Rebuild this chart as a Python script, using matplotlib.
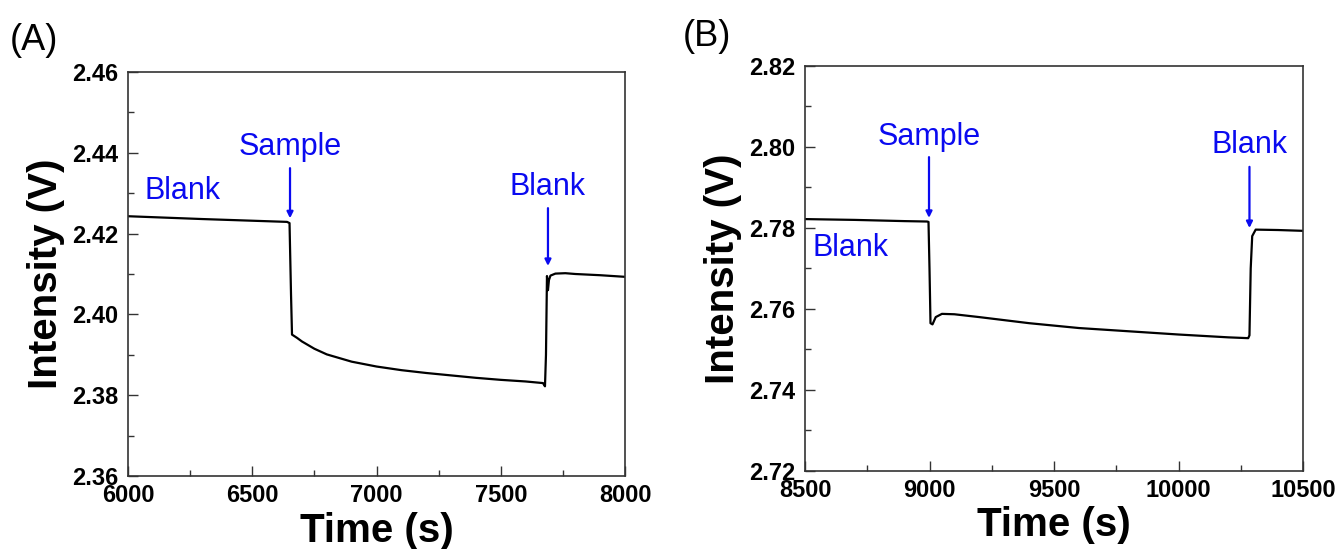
import matplotlib
matplotlib.use("Agg")
import matplotlib.pyplot as plt
from matplotlib.ticker import MultipleLocator, FormatStrFormatter

plt.rcParams['font.family'] = ['Liberation Sans', 'DejaVu Sans']

# Panel A data (time s, intensity V)
time_a = [6000, 6300, 6640, 6650, 6656, 6660, 6680, 6700, 6750, 6800, 6900, 7000,
          7100, 7200, 7300, 7400, 7500, 7600, 7670, 7678, 7682, 7686, 7690, 7694,
          7700, 7720, 7760, 7800, 7900, 8000]
int_a = [2.4243, 2.4236, 2.4229, 2.4226, 2.4050, 2.3950, 2.3942, 2.3933, 2.3915, 2.3901,
         2.3883, 2.3871, 2.3862, 2.3855, 2.3849, 2.3843, 2.3838, 2.3834, 2.3830, 2.3822,
         2.3900, 2.4095, 2.4060, 2.4085, 2.4096, 2.4101, 2.4102, 2.4100, 2.4097, 2.4093]

# Panel B data
time_b = [8500, 8700, 8900, 8990, 8996, 9000, 9004, 9012, 9025, 9050, 9100, 9200,
          9400, 9600, 9800, 10000, 10200, 10280, 10285, 10290, 10296, 10310, 10400, 10500]
int_b = [2.7822, 2.7820, 2.7817, 2.7816, 2.7815, 2.7700, 2.7565, 2.7562, 2.7580, 2.7588,
         2.7587, 2.7580, 2.7565, 2.7553, 2.7545, 2.7537, 2.7530, 2.7528, 2.7535, 2.7700,
         2.7780, 2.7796, 2.7795, 2.7793]

panel_labels = ["(A)", "(B)"]
xlims = [(6000, 8000), (8500, 10500)]
ylims = [(2.36, 2.46), (2.72, 2.82)]

# annotations: (text, text_x, text_y, arrow_tail_y, arrow_tip_y) ; arrow_tail None = plain label
notes_a = [("Blank", 6065, 2.4305, None, None),
           ("Sample", 6652, 2.4414, 2.4362, 2.4238),
           ("Blank", 7690, 2.4315, 2.4263, 2.4120)]
notes_b = [("Blank", 8530, 2.7750, None, None),
           ("Sample", 8998, 2.8025, 2.7975, 2.7825),
           ("Blank", 10285, 2.8005, 2.7951, 2.7800)]

BLUE = '#0a0af0'

fig = plt.figure(figsize=(13.37, 5.49), dpi=100)
axA = fig.add_axes([128/1337, 1-476/549, 497/1337, 404/549])
axB = fig.add_axes([805/1337, 1-471/549, 498/1337, 405/549])

for ax, t, v, xl, yl, notes in [(axA, time_a, int_a, xlims[0], ylims[0], notes_a),
                                 (axB, time_b, int_b, xlims[1], ylims[1], notes_b)]:
    ax.plot(t, v, color='black', lw=1.6)
    ax.set_xlim(*xl)
    ax.set_ylim(*yl)
    ax.xaxis.set_major_locator(MultipleLocator(500))
    ax.xaxis.set_minor_locator(MultipleLocator(250))
    ax.yaxis.set_major_locator(MultipleLocator(0.02))
    ax.yaxis.set_minor_locator(MultipleLocator(0.01))
    ax.yaxis.set_major_formatter(FormatStrFormatter('%.2f'))
    ax.tick_params(which='both', direction='in', top=False, right=False, width=1.0,
                   color='#333333')
    ax.tick_params(which='major', length=7, labelsize=17)
    ax.tick_params(axis='x', which='major', pad=6)
    ax.tick_params(axis='y', which='major', pad=7)
    ax.tick_params(which='minor', length=4)
    for lab in ax.get_xticklabels() + ax.get_yticklabels():
        lab.set_fontweight('bold')
    for s in ax.spines.values():
        s.set_linewidth(1.2)
        s.set_color('#333333')
    ax.set_xlabel('Time (s)', fontsize=29, fontweight='bold', labelpad=3)
    ax.set_ylabel('Intensity (V)', fontsize=29, fontweight='bold', labelpad=5)
    for text, tx, ty, tail, tip in notes:
        if tail is None:
            ax.text(tx, ty, text, color=BLUE, fontsize=22, ha='left', va='center')
        else:
            ax.text(tx, ty, text, color=BLUE, fontsize=22, ha='center', va='center')
            ax.annotate('', xy=(tx, tip), xytext=(tx, tail),
                        arrowprops=dict(arrowstyle='-|>', color=BLUE, lw=1.6,
                                        mutation_scale=9, shrinkA=0, shrinkB=0))

fig.text(10/1337, 1-40/549, panel_labels[0], fontsize=26, va='center', ha='left')
fig.text(683/1337, 1-37/549, panel_labels[1], fontsize=26, va='center', ha='left')

fig.savefig('out.png', dpi=100)
